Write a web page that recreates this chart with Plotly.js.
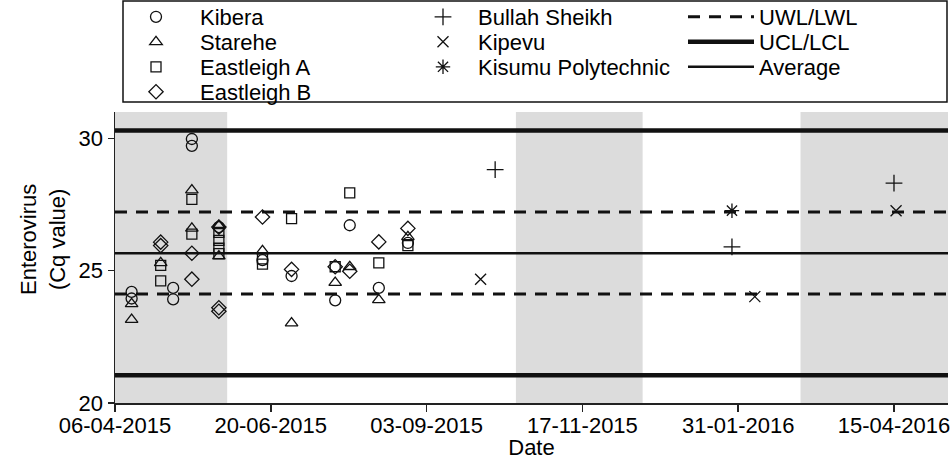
<!DOCTYPE html>
<html><head><meta charset="utf-8">
<script src="https://cdn.plot.ly/plotly-3.0.1.min.js"></script>
<style>html,body{margin:0;padding:0;background:#fff}#chart{width:950px;height:460px}</style>
</head><body><div id="chart"></div>
<script>
// ---- data ----
const kiberaDates  = ['2015-04-14','2015-04-14','2015-05-04','2015-05-04','2015-05-13','2015-05-13','2015-05-26','2015-06-16','2015-06-30','2015-07-21','2015-07-28','2015-08-11','2015-08-25'];
const kiberaValues = [24.2,23.95,24.35,23.92,29.98,29.72,26.65,25.4,24.8,23.88,26.72,24.35,26.05];

const stareheDates  = ['2015-04-14','2015-04-14','2015-04-28','2015-05-13','2015-05-13','2015-05-26','2015-05-26','2015-06-16','2015-06-30','2015-07-21','2015-07-28','2015-08-11','2015-08-25'];
const stareheValues = [23.75,23.15,25.3,28.05,26.6,26.7,25.55,25.75,23.02,24.55,25.15,23.9,26.28];

const eastADates  = ['2015-04-28','2015-04-28','2015-05-13','2015-05-13','2015-05-26','2015-05-26','2015-05-26','2015-05-26','2015-06-16','2015-06-16','2015-06-30','2015-07-21','2015-07-28','2015-08-11','2015-08-25'];
const eastAValues = [25.2,24.62,27.7,26.38,26.45,26.15,25.85,25.65,25.45,25.25,26.97,25.15,27.94,25.3,25.95];

const eastBDates  = ['2015-04-28','2015-04-28','2015-05-13','2015-05-13','2015-05-26','2015-05-26','2015-05-26','2015-06-16','2015-06-30','2015-07-21','2015-07-28','2015-08-11','2015-08-25'];
const eastBValues = [26.08,25.95,25.66,24.68,26.65,23.6,23.47,27.03,25.05,25.15,24.98,26.09,26.6];

const bullahDates  = ['2015-10-06','2016-01-28','2016-04-15'];
const bullahValues = [28.82,25.9,28.31];

const kipevuDates  = ['2015-09-29','2016-02-08','2016-04-16'];
const kipevuValues = [24.68,24.02,27.27];

const kisumuDates  = ['2016-01-28'];
const kisumuValues = [27.27];

const limitNames  = ['UWL/LWL','UCL/LCL','Average'];
const uwl = 27.22, lwl = 24.12, ucl = 30.3, lcl = 21.05, average = 25.66;

const xRange = ['2015-04-06','2016-05-11'];
const rainyStarts = ['2015-04-06','2015-10-16','2016-03-01'];
const rainyEnds   = ['2015-05-30','2015-12-16','2016-05-11'];

const xTickVals   = ['2015-04-06','2015-06-20','2015-09-03','2015-11-17','2016-01-31','2016-04-15'];
const xTickLabels = ['06-04-2015','20-06-2015','03-09-2015','17-11-2015','31-01-2016','15-04-2016'];
const yTickVals   = [20,25,30];

// ---- geometry helpers (plot area in px) ----
const PL = 115, PR = 948, PT = 112, PB = 403;
const px2x = p => (p - PL) / (PR - PL);
const py2y = p => (PB - p) / (PB - PT);

const FONT = 'Liberation Sans, Arial, sans-serif';
const INK = '#111';

function mk(name, dates, vals, symbol, size, leg) {
  return {type:'scatter', mode:'markers', name, x:dates, y:vals, legend:leg,
    marker:{symbol, size, color:INK, line:{color:INK, width:1.3}}, cliponaxis:false};
}

const traces = [
  {type:'scatter', mode:'lines', name:limitNames[0], legend:'legend3',
    x:[xRange[0],xRange[1],null,xRange[0],xRange[1]], y:[uwl,uwl,null,lwl,lwl],
    line:{color:INK, width:3, dash:'12px,9px'}},
  {type:'scatter', mode:'lines', name:limitNames[1], legend:'legend6',
    x:[xRange[0],xRange[1],null,xRange[0],xRange[1]], y:[ucl,ucl,null,lcl,lcl],
    line:{color:INK, width:4.5}},
  {type:'scatter', mode:'lines', name:limitNames[2], legend:'legend9',
    x:[xRange[0],xRange[1]], y:[average,average],
    line:{color:INK, width:2.5}},
  mk('Kibera', kiberaDates, kiberaValues, 'circle-open', 11, 'legend'),
  mk('Starehe', stareheDates, stareheValues, 'triangle-up-open', 11, 'legend4'),
  mk('Eastleigh A', eastADates, eastAValues, 'square-open', 10, 'legend7'),
  mk('Eastleigh B', eastBDates, eastBValues, 'diamond-open', 11, 'legend10'),
  mk('Bullah Sheikh', bullahDates, bullahValues, 'cross-thin-open', 12, 'legend2'),
  mk('Kipevu', kipevuDates, kipevuValues, 'x-thin-open', 11, 'legend5'),
  mk('Kisumu Polytechnic', kisumuDates, kisumuValues, 'asterisk-open', 12, 'legend8')
];

// legend cells: rows at these pixel centres, columns at these pixel lefts / symbol widths
const rowY = [17, 42, 67, 92];
const colX = [112, 408, 683];
const colW = [78, 60, 66];
function leg(col, row) {
  return {x:px2x(colX[col]), xanchor:'left', y:py2y(rowY[row]), yanchor:'middle',
    xref:'paper', yref:'paper', bgcolor:'rgba(0,0,0,0)', borderwidth:0,
    font:{family:FONT, size:22, color:'#000'}, itemwidth:colW[col],
    orientation:'v', itemclick:false, itemdoubleclick:false, tracegroupgap:0};
}

const layout = {
  width:950, height:460,
  margin:{l:PL, r:950-PR, t:PT, b:460-PB, autoexpand:false},
  paper_bgcolor:'#fff', plot_bgcolor:'#fff',
  font:{family:FONT, size:22, color:'#000'},
  showlegend:true,
  legend:leg(0,0), legend4:leg(0,1), legend7:leg(0,2), legend10:leg(0,3),
  legend2:leg(1,0), legend5:leg(1,1), legend8:leg(1,2),
  legend3:leg(2,0), legend6:leg(2,1), legend9:leg(2,2),
  xaxis:{type:'date', range:xRange, tickvals:xTickVals, ticktext:xTickLabels,
    ticks:'outside', ticklen:7, tickwidth:1.5, tickcolor:'#222',
    ticklabelstandoff:-5, ticklabeloverflow:'allow',
    showline:true, linecolor:'#222', linewidth:1.5, showgrid:false, zeroline:false,
    tickfont:{family:FONT, size:22, color:'#000'},
    title:{text:'Date', font:{family:FONT, size:22, color:'#000'}, standoff:11}},
  yaxis:{range:[20,31], tickvals:yTickVals, ticks:'outside', ticklen:6, tickwidth:1.5, tickcolor:'#222',
    showline:true, linecolor:'#222', linewidth:1.5, showgrid:false, zeroline:false,
    tickfont:{family:FONT, size:22, color:'#000'}},
  shapes: rainyStarts.map((s,i) => ({type:'rect', xref:'x', yref:'paper', x0:s, x1:rainyEnds[i], y0:0, y1:1,
      fillcolor:'#dcdcdc', line:{width:0}, layer:'below'}))
    .concat([{type:'rect', xref:'paper', yref:'paper', x0:px2x(123), x1:px2x(947), y0:py2y(102), y1:py2y(1),
      line:{color:'#111', width:1.5}, fillcolor:'rgba(0,0,0,0)'}]),
  annotations:[{text:'Enterovirus<br>(Cq value)', textangle:-90, xref:'paper', yref:'paper',
    x:px2x(43), y:py2y(240), xanchor:'center', yanchor:'middle', showarrow:false,
    font:{family:FONT, size:22, color:'#000'}}]
};

Plotly.newPlot('chart', traces, layout, {staticPlot:true, displayModeBar:false});
</script>
</body></html>
